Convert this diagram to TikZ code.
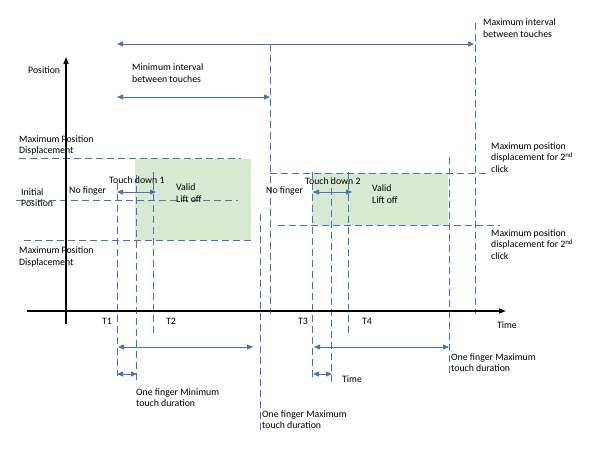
\documentclass[tikz,border=0pt]{standalone}
\usepackage{fontspec}
\setmainfont{Carlito}
\usetikzlibrary{arrows.meta}
\definecolor{lnblue}{HTML}{4472C4}
\definecolor{boxgreen}{HTML}{D9EAD3}
\tikzset{
  lbl/.style={inner sep=0pt, anchor=west, align=left, font=\fontsize{9.8}{11.6}\selectfont},
  clbl/.style={inner sep=0pt, anchor=center, font=\fontsize{9.8}{11.6}\selectfont},
  axisline/.style={black, line width=1.5pt, -{Triangle[length=7pt,width=5pt]}},
  guide/.style={lnblue, line width=0.8pt, dash pattern=on 7pt off 4pt},
  span/.style={lnblue, line width=0.8pt, {Triangle[length=6pt,width=5pt]}-{Triangle[length=6pt,width=5pt]}},
  validbox/.style={fill=boxgreen, draw=none}
}
\begin{document}
\begin{tikzpicture}[x=1pt,y=-1pt]
\useasboundingbox (0,0) rectangle (593,453);
% green areas
\fill[validbox] (135,159) rectangle (251,240);
\fill[validbox] (312,173) rectangle (448,225);
% coordinates
\foreach \n/\x/\ya/\yb in {v1/117/183/376, v2/136/175/380, v3/153/172/337, v4/260/214/432, v5/270/44/314, v6/312/172/377, v7/331/177/382, v8/348/172/337, v9/449/157/374, v10/475/23/314}{
  \coordinate (\n t) at (\x,\ya);
  \coordinate (\n b) at (\x,\yb);
}
\foreach \n/\y/\xa/\xb in {h1/158/19/241, h2/200/16/238, h3/240/24/251, h4/173/270/490, h5/225/278/500,
  a1/44/117/474, a2/97/117/270, a3/192/117/156, a4/347/118/253, a5/374/117/137, a6/192/313/352, a7/347/314/449, a8/374/313/332}{
  \coordinate (\n l) at (\xa,\y);
  \coordinate (\n r) at (\xb,\y);
}
\coordinate (yb) at (66,324);
\coordinate (yt) at (66,57);
\coordinate (xl) at (27,311);
\coordinate (xr) at (506,311);
% guides
\foreach \n in {v1,v2,v3,v4,v5,v6,v7,v8,v9,v10}{\draw[guide] (\n t) -- (\n b);}
\foreach \n in {h1,h2,h3,h4,h5}{\draw[guide] (\n l) -- (\n r);}
% spans
\foreach \n in {a1,a2,a3,a4,a5,a6,a7,a8}{\draw[span] (\n l) -- (\n r);}
% axes
\draw[axisline] (yb) -- (yt);
\draw[axisline] (xl) -- (xr);
% labels
\node[lbl] (pos) at (28,70) {Position};
\node[lbl] (minint) at (132,73) {Minimum interval\\between touches};
\node[lbl] (maxint) at (483,28) {Maximum interval\\between touches};
\node[lbl] (mpd1) at (19,145.5) {Maximum Position\\Displacement};
\node[lbl] (init) at (21,197.5) {Initial\\Position};
\node[lbl] (nf1) at (69,191) {No finger};
\node[lbl] (td1) at (109,180) {Touch down 1};
\node[lbl] (vl1) at (176,193) {Valid\\Lift off};
\node[lbl] (mpd2) at (19,257) {Maximum Position\\Displacement};
\node[lbl] (nf2) at (266,191) {No finger};
\node[lbl] (td2) at (305,181) {Touch down 2};
\node[lbl] (vl2) at (372,194) {Valid\\Lift off};
\node[lbl] (mpd3) at (491,157.5) {Maximum position\\displacement for 2\textsuperscript{nd}\\click};
\node[lbl] (mpd4) at (491,244.5) {Maximum position\\displacement for 2\textsuperscript{nd}\\click};
\node[clbl] (t1) at (107,321) {T1};
\node[clbl] (t2) at (171,321) {T2};
\node[clbl] (t3) at (303,321) {T3};
\node[clbl] (t4) at (367,321) {T4};
\node[clbl] (time1) at (507,325) {Time};
\node[lbl] (ofmin) at (136,397.5) {One finger Minimum\\touch duration};
\node[lbl] (ofmax1) at (262,419.5) {One finger Maximum\\touch duration};
\node[lbl] (ofmax2) at (451,362.5) {One finger Maximum\\touch duration};
\node[lbl] (time2) at (342,379) {Time};
\end{tikzpicture}
\end{document}
